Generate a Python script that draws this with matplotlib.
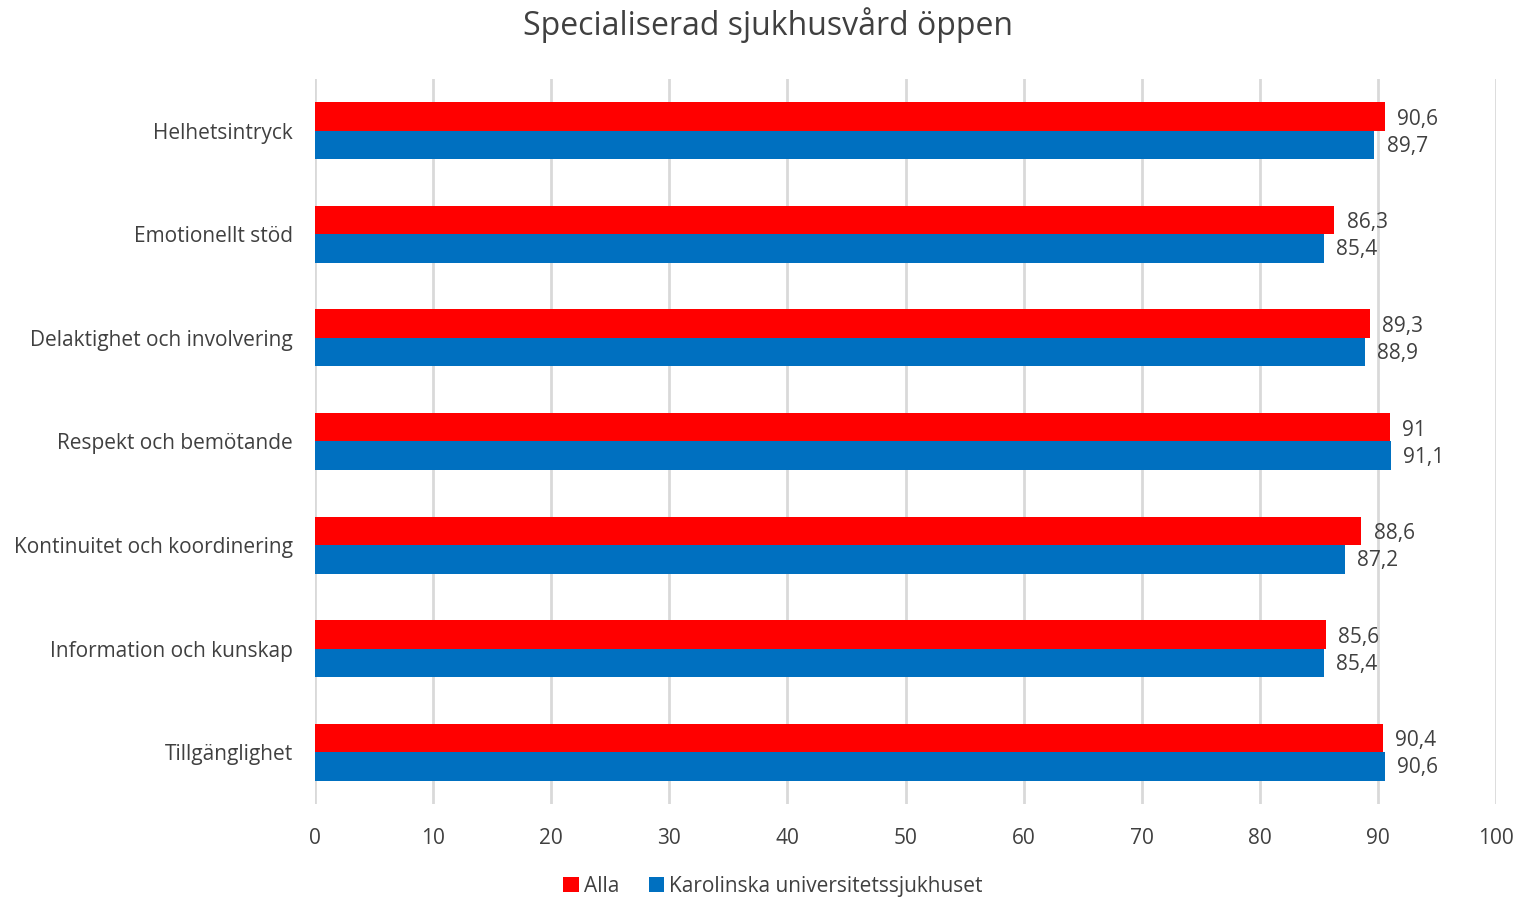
import matplotlib
matplotlib.use("Agg")
import matplotlib.pyplot as plt
import numpy as np

categories = ["Helhetsintryck", "Emotionellt stöd", "Delaktighet och involvering",
              "Respekt och bemötande", "Kontinuitet och koordinering",
              "Information och kunskap", "Tillgänglighet"]
alla = [90.6, 86.3, 89.3, 91, 88.6, 85.6, 90.4]
karolinska = [89.7, 85.4, 88.9, 91.1, 87.2, 85.4, 90.6]
series_names = ["Alla", "Karolinska universitetssjukhuset"]
xticks = [0, 10, 20, 30, 40, 50, 60, 70, 80, 90, 100]
title = "Specialiserad sjukhusvård öppen"

plt.rcParams['font.family'] = ['Open Sans', 'DejaVu Sans']

fig = plt.figure(figsize=(15.17, 8.97), dpi=100)
ax = fig.add_axes([315/1517, 1 - 804/897, (1496-315)/1517, (804-79)/897])

n = len(categories)
y = np.arange(n)
h = 0.275
red = "#ff0000"
blue = "#0070c0"
txt = "#404040"

ax.barh(y - h/2, alla, height=h, color=red, label=series_names[0], zorder=3)
ax.barh(y + h/2, karolinska, height=h, color=blue, label=series_names[1], zorder=3)

def fmt(v):
    s = ("%.1f" % v).rstrip("0").rstrip(".")
    return s.replace(".", ",")

for yi, a, k in zip(y, alla, karolinska):
    ax.annotate(fmt(a), (a, yi - h/2), xytext=(9, -2), textcoords="offset points",
                va="center", ha="left", fontsize=15, color=txt)
    ax.annotate(fmt(k), (k, yi + h/2), xytext=(9, -1), textcoords="offset points",
                va="center", ha="left", fontsize=15, color=txt)

ax.set_xlim(0, 100)
ax.set_ylim(n - 0.5, -0.5)
ax.set_yticks(y)
ax.set_yticklabels(categories, fontsize=15, color=txt)
ax.set_xticks(xticks)
ax.set_xticklabels([str(t) for t in xticks], fontsize=15, color=txt)
ax.tick_params(axis="both", length=0)
ax.tick_params(axis="y", pad=16)
ax.tick_params(axis="x", pad=17)
for s in ax.spines.values():
    s.set_visible(False)
ax.grid(axis="x", color="#d9d9d9", linewidth=2, zorder=0)
ax.set_axisbelow(True)

fig.text(768/1517, 1 - 25/897, title, ha="center", va="center", fontsize=23, color=txt)

leg = fig.legend(loc="center", bbox_to_anchor=(773/1517, 1 - 886/897), ncol=2,
                 frameon=False, fontsize=15, handlelength=0.75, handleheight=0.75,
                 handletextpad=0.25, columnspacing=1.4)
for t in leg.get_texts():
    t.set_color(txt)

fig.savefig("out.png", dpi=100)
